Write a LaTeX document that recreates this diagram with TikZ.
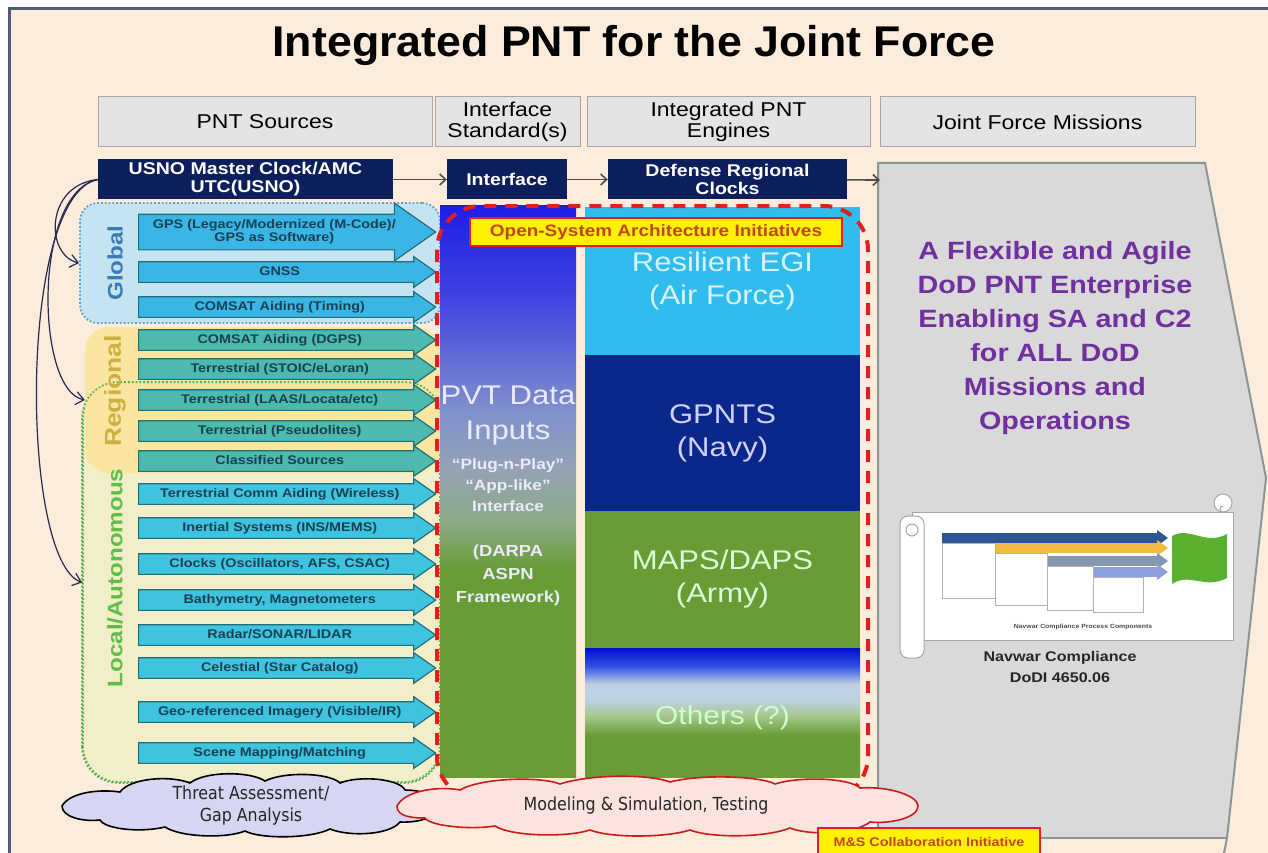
\documentclass[tikz,border=0pt]{standalone}
\usepackage{fontspec}
\setmainfont{Liberation Sans}[FakeStretch=1.15]
\newfontfamily\titlefont{Liberation Sans}[FakeStretch=1.04]
\newfontfamily\cloudfont{DejaVu Sans}[FakeStretch=0.88]
\usetikzlibrary{arrows.meta,shapes.arrows}

\definecolor{peach}{RGB}{252,236,220}
\definecolor{framegray}{RGB}{80,92,120}
\definecolor{headgray}{RGB}{228,228,228}
\definecolor{navybox}{RGB}{12,30,92}
\definecolor{linknavy}{RGB}{40,40,80}
\definecolor{globalfill}{RGB}{196,228,242}
\definecolor{globalline}{RGB}{96,160,200}
\definecolor{globaltext}{RGB}{58,122,184}
\definecolor{regionfill}{RGB}{250,230,160}
\definecolor{regiontext}{RGB}{206,176,64}
\definecolor{localfill}{RGB}{242,238,202}
\definecolor{localline}{RGB}{90,180,80}
\definecolor{localtext}{RGB}{96,190,70}
\definecolor{srcblue}{RGB}{58,182,230}
\definecolor{srccyan}{RGB}{62,196,222}
\definecolor{srcteal}{RGB}{76,186,172}
\definecolor{srcedge}{RGB}{34,110,120}
\definecolor{srctext}{RGB}{24,64,84}
\definecolor{pvtblue}{RGB}{28,28,232}
\definecolor{pvtviolet}{RGB}{72,72,224}
\definecolor{pvtmid}{RGB}{128,144,204}
\definecolor{pvtslate}{RGB}{148,162,180}
\definecolor{pvtsage}{RGB}{142,170,136}
\definecolor{armygreen}{RGB}{104,156,52}
\definecolor{egicyan}{RGB}{48,188,236}
\definecolor{navyblue}{RGB}{10,40,140}
\definecolor{othersblue}{RGB}{0,16,208}
\definecolor{othersmid}{RGB}{48,80,224}
\definecolor{othershaze}{RGB}{192,208,228}
\definecolor{otherssage}{RGB}{168,200,144}
\definecolor{osared}{RGB}{226,30,30}
\definecolor{labelbrown}{RGB}{192,72,24}
\definecolor{missiongray}{RGB}{217,217,217}
\definecolor{missionline}{RGB}{140,150,150}
\definecolor{enterprise}{RGB}{112,48,160}
\definecolor{threatfill}{RGB}{214,214,242}
\definecolor{msfill}{RGB}{252,228,222}
\definecolor{chartblue}{RGB}{47,85,151}
\definecolor{chartgold}{RGB}{244,185,66}
\definecolor{chartslate}{RGB}{132,151,176}
\definecolor{chartlilac}{RGB}{142,159,224}
\definecolor{chartgreen}{RGB}{92,176,48}

% column shadings, bottom to top
\pgfdeclareverticalshading{pvtshade}{100bp}{color(0bp)=(armygreen); color(25bp)=(armygreen); color(43bp)=(armygreen); color(47.5bp)=(pvtsage); color(52bp)=(pvtslate); color(57bp)=(pvtmid); color(66bp)=(pvtviolet); color(75bp)=(pvtblue); color(100bp)=(pvtblue)}
\pgfdeclareverticalshading{othershade}{100bp}{color(0bp)=(armygreen); color(25bp)=(armygreen); color(41bp)=(armygreen); color(49bp)=(otherssage); color(55bp)=(othershaze); color(61bp)=(othershaze); color(68bp)=(othersmid); color(75bp)=(othersblue); color(100bp)=(othersblue)}

\newcommand\fs[2]{\fontsize{#1}{#2}\selectfont}

\begin{document}
\begin{tikzpicture}[x=1pt, y=-1pt,
    headbox/.style={draw=gray!70, fill=headgray, line width=1pt, minimum height=50pt, inner sep=1pt, align=center, font=\fs{20}{21}},
    navybox/.style={fill=navybox, minimum height=40pt, inner sep=1pt, align=center, text=white, font=\bfseries\fs{17}{18}},
    flow/.style={draw=black!70, line width=1.6pt, -{Straight Barb[length=6pt,width=11pt]}},
    link/.style={draw=linknavy, line width=1.2pt, -{Straight Barb[length=8pt,width=13pt]}},
    srcarrow/.style={single arrow, single arrow tip angle=70, single arrow head extend=5pt, shape border rotate=0, minimum height=297pt, inner xsep=2pt, inner ysep=4pt, text height=9pt, text depth=2.5pt, draw=srcedge, line width=1.2pt, text=srctext, font=\bfseries\fs{12.5}{13}, align=center, anchor=tail},
    grplabel/.style={rotate=90, font=\bfseries\fs{21}{24}},
    engine/.style={minimum width=275pt, inner sep=0pt, align=center, font=\fs{27}{33}},
    pvttext/.style={text=white!92!blue, align=center},
    tag/.style={fill=yellow, draw=osared, line width=2pt, inner sep=0pt, text=labelbrown, font=\bfseries},
    threatcloud/.style={draw=black, fill=threatfill, line width=1.6pt},
    mscloud/.style={draw=osared!90!black, fill=msfill, line width=1.6pt},
    cloudtext/.style={align=center, font=\cloudfont\fs{18}{22}, text=black!85},
    scrolledge/.style={draw=gray!70, fill=white, line width=1pt}]

  \useasboundingbox (0,0) rectangle (1268,853);

  % page and frame
  \fill[peach] (10,10) rectangle (1268,853);
  \draw[framegray, line width=3pt] (9,853) -- (9,9) -- (1268,9);

  \node[font=\titlefont\bfseries\fs{43}{48}] (title) at (634,45) {Integrated PNT for the Joint Force};

  % Header row
  \node[headbox, minimum width=334pt] (hsrc) at (265,122) {PNT Sources};
  \node[headbox, minimum width=145pt] (hif) at (507.5,122) {Interface\\Standard(s)};
  \node[headbox, minimum width=283pt] (heng) at (728.5,122) {Integrated PNT\\Engines};
  \node[headbox, minimum width=315pt] (hjfm) at (1037.5,122) {Joint Force Missions};

  % Joint force missions block
  \fill[missiongray] (878,163) -- (1205,163) -- (1266,478) -- (1227,838) -- (878,838) -- cycle;
  \draw[missionline, line width=2pt] (878,838) -- (878,163) -- (1205,163) -- (1266,478) -- (1227,838) -- (1224,853);
  \draw[missionline, line width=1.5pt] (878,838) -- (1227,838);
  \coordinate (jfm) at (880,180);

  % Clock row
  \node[navybox, minimum width=295pt] (usno) at (245.5,179.5) {USNO Master Clock/AMC\\UTC(USNO)};
  \node[navybox, minimum width=120pt] (iface) at (507,179.5) {Interface};
  \node[navybox, minimum width=239pt] (drc) at (727.5,179.5) {Defense Regional\\Clocks};
  \draw[flow] (usno) -- (iface);
  \draw[flow] (iface) -- (drc);
  \draw[flow] (drc) -- (jfm);

  % Source groups
  \node[draw=localline, fill=localfill, line width=1.8pt, dotted, rounded corners=36pt, minimum width=357pt, minimum height=399pt] (local) at (261.5,582.5) {};
  \node[fill=regionfill, rounded corners=24pt, minimum width=355pt, minimum height=146pt] (regional) at (262.5,400) {};
  \draw[localline, line width=1.8pt, dotted, rounded corners=36pt] (local.south west) rectangle (local.north east);
  \node[draw=globalline, fill=globalfill, line width=1.8pt, dotted, rounded corners=18pt, minimum width=360pt, minimum height=120pt] (global) at (260,263) {};

  \node[grplabel, text=globaltext] (globallbl) at (115,263) {Global};
  \node[grplabel, text=regiontext, font=\bfseries\fs{23}{26}] (regionallbl) at (115,391) {Regional};
  \node[grplabel, text=localtext] (locallbl) at (115,578) {Local/Autonomous};

  \draw[link] (usno.west) .. controls (45,185) and (45,255) .. (global.west);
  \draw[link] (usno.west) .. controls (33,192) and (35,390) .. (regional.west);
  \draw[link] (usno.west) .. controls (18,195) and (20,560) .. (local.west);

  % Sources
  \node[srcarrow, fill=srcblue, inner ysep=5pt, text height=22pt, single arrow head extend=11pt] (src-0) at (138,232) {GPS (Legacy/Modernized (M-Code)/\\GPS as Software)};
  \foreach \y/\txt/\col [count=\i] in {
      272/{GNSS}/srcblue,
      307/{COMSAT Aiding (Timing)}/srcblue,
      340/{COMSAT Aiding (DGPS)}/srcteal,
      369/{Terrestrial (STOIC/eLoran)}/srcteal,
      400/{Terrestrial (LAAS/Locata/etc)}/srcteal,
      431/{Terrestrial (Pseudolites)}/srcteal,
      461/{Classified Sources}/srcteal,
      494/{Terrestrial Comm Aiding (Wireless)}/srccyan,
      528/{Inertial Systems (INS/MEMS)}/srccyan,
      564/{Clocks (Oscillators, AFS, CSAC)}/srccyan,
      600/{Bathymetry, Magnetometers}/srccyan,
      635/{Radar/SONAR/LIDAR}/srccyan,
      668/{Celestial (Star Catalog)}/srccyan,
      712/{Geo-referenced Imagery (Visible/IR)}/srccyan,
      753/{Scene Mapping/Matching}/srccyan}
    \node[srcarrow, fill=\col] (src-\i) at (138,\y) {\txt};

  % PVT data column
  \node[shading=pvtshade, minimum width=136pt, minimum height=572pt, inner sep=0pt] (pvt) at (508,491) {};
  \node[pvttext, font=\fs{27}{35}] (pvthead) at (508,416) {PVT Data\\Inputs};
  \node[pvttext, font=\bfseries\fs{15}{21}] (pvtplug) at (508,485) {“Plug-n-Play”\\“App-like”\\Interface};
  \node[pvttext, font=\bfseries\fs{16}{23}] (pvtaspn) at (508,575) {(DARPA\\ASPN\\Framework)};

  % PNT engines
  \node[engine, fill=egicyan, minimum height=148pt, text=white!85!cyan] (egi) at (722.5,281) {Resilient EGI\\(Air Force)};
  \node[engine, fill=navyblue, minimum height=156pt, text=white!82!blue] (gpnts) at (722.5,433) {GPNTS\\(Navy)};
  \node[engine, fill=armygreen, minimum height=137pt, text=white!85!green] (maps) at (722.5,579.5) {MAPS/DAPS\\(Army)};
  \node[engine, shading=othershade, minimum height=129pt] (others) at (722.5,712.5) {};
  \node[font=\fs{26}{30}, text=white!80!green] (otherslbl) at (722.5,718) {Others (?)};

  % Open-system boundary
  \draw[osared, line width=4pt, dash pattern=on 12pt off 9pt, rounded corners=44pt] (437,206) rectangle (868,800);
  \node[tag, minimum width=372pt, minimum height=28pt, font=\bfseries\fs{16.5}{18}] (osa) at (656,232) {Open-System Architecture Initiatives};

  % Mission statement
  \node[font=\bfseries\fs{25}{34}, text=enterprise, align=center] (goal) at (1055,338) {A Flexible and Agile\\DoD PNT Enterprise\\Enabling SA and C2\\for ALL DoD\\Missions and\\Operations};

  % Navwar compliance scroll
  \draw[scrolledge] (912,512) rectangle (1233,640);
  \draw[scrolledge] (1223,503) circle (9);
  \draw[gray!70, line width=1pt] (1223,506) arc (270:90:3);
  \draw[scrolledge, rounded corners=8pt] (900,516) rectangle (924,658);
  \draw[gray!70, line width=1pt] (912,530) circle (6);
  \foreach \x/\y/\c in {942/533/chartblue, 995/543/chartgold, 1047/556/chartslate, 1093/567/chartlilac} {
    \fill[\c] (\x,\y) rectangle (1157,\y+10);
    \fill[\c] (1157,\y-3) -- (1168,\y+5) -- (1157,\y+13) -- cycle;
  }
  \foreach \x/\y/\w/\h in {942/543/53/55, 995/553/52/52, 1047/566/46/44, 1093/577/50/35}
    \draw[gray!60, fill=white, line width=0.6pt] (\x,\y) rectangle ++(\w,\h);
  \fill[chartgreen] (1172,536) .. controls (1190,526) and (1205,546) .. (1227,534) -- (1227,578) .. controls (1205,590) and (1190,572) .. (1172,584) -- cycle;
  \node[font=\bfseries\fs{6}{7}, text=black!70] (navcap) at (1083,627) {Navwar Compliance Process Components};
  \node[font=\bfseries\fs{14}{21}, align=center, text=black!85] (navwar) at (1060,667) {Navwar Compliance\\DoDI 4650.06};

  % Threat assessment cloud
  \draw[threatcloud] (62,806) .. controls (70,792) and (100,789) .. (120,792)
    .. controls (130,778) and (170,775) .. (190,783) .. controls (205,771) and (250,771) .. (265,781)
    .. controls (285,771) and (330,773) .. (340,783) .. controls (360,775) and (400,779) .. (405,790)
    .. controls (425,790) and (440,798) .. (440,806) .. controls (440,816) and (420,823) .. (400,822)
    .. controls (390,835) and (350,837) .. (330,829) .. controls (310,839) and (260,839) .. (245,831)
    .. controls (225,839) and (180,837) .. (165,827) .. controls (140,833) and (105,829) .. (100,820)
    .. controls (80,822) and (62,816) .. (62,806) -- cycle;
  \node[cloudtext] (threat) at (251,806) {Threat Assessment/\\Gap Analysis};

  % Modeling and simulation cloud
  \draw[mscloud] (397,806) .. controls (405,790) and (440,786) .. (460,790)
    .. controls (480,778) and (540,776) .. (560,784) .. controls (590,774) and (650,774) .. (670,782)
    .. controls (700,774) and (760,776) .. (775,784) .. controls (800,776) and (850,778) .. (860,788)
    .. controls (890,786) and (918,796) .. (918,806) .. controls (918,818) and (890,824) .. (870,822)
    .. controls (855,834) and (810,836) .. (790,828) .. controls (765,838) and (710,838) .. (690,830)
    .. controls (665,838) and (610,838) .. (590,830) .. controls (565,838) and (510,836) .. (495,826)
    .. controls (470,830) and (430,826) .. (425,818) .. controls (405,818) and (397,814) .. (397,806) -- cycle;
  \node[cloudtext] (msim) at (646,806) {Modeling \& Simulation, Testing};
  \node[tag, minimum width=222pt, minimum height=28pt, font=\bfseries\fs{12.5}{14}] (mscollab) at (929,842) {M\&S Collaboration Initiative};

\end{tikzpicture}
\end{document}
